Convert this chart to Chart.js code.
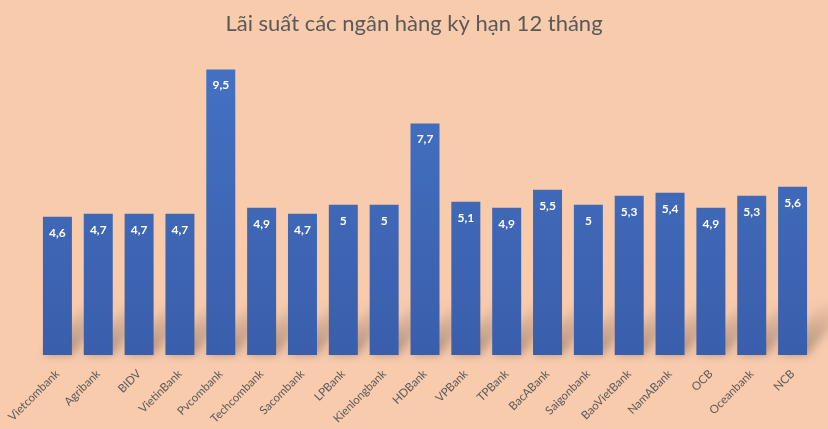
<!DOCTYPE html>
<html>
<head>
<meta charset="utf-8">
<script src="https://cdn.jsdelivr.net/npm/chart.js@4"></script>
<style>
	html, body { margin: 0; padding: 0; background: #f8cbad; }
	#wrap { width: 828px; height: 429px; }
</style>
</head>
<body>
<div id="wrap"><canvas id="rateChart"></canvas></div>
<script>
const banks = ["Vietcombank", "Agribank", "BIDV", "VietinBank", "Pvcombank", "Techcombank", "Sacombank", "LPBank", "Kienlongbank", "HDBank", "VPBank", "TPBank", "BacABank", "Saigonbank", "BaoVietBank", "NamABank", "OCB", "Oceanbank", "NCB"];
const rates = [4.6, 4.7, 4.7, 4.7, 9.5, 4.9, 4.7, 5, 5, 7.7, 5.1, 4.9, 5.5, 5, 5.3, 5.4, 4.9, 5.3, 5.6];
const titleText = "Lãi suất các ngân hàng kỳ hạn 12 tháng";

const FONT = "Lato, 'Open Sans', sans-serif";

// soft diagonal shadow behind each bar
const floorShadow = {
	id: "floorShadow",
	beforeDatasetsDraw(chart) {
		const c = chart.ctx;
		const bars = chart.getDatasetMeta(0).data;
		c.save();
		c.filter = "blur(4px)";
		bars.forEach((b) => {
			const half = b.width / 2;
			const base = b.base;
			const g = c.createLinearGradient(0, base, 0, base - 55);
			g.addColorStop(0, "rgba(90,70,60,0.45)");
			g.addColorStop(1, "rgba(90,70,60,0)");
			c.fillStyle = g;
			c.beginPath();
			c.moveTo(b.x - half, base);
			c.lineTo(b.x + half, base);
			c.lineTo(b.x + half + 45, base - 55);
			c.lineTo(b.x - half + 45, base - 55);
			c.closePath();
			c.fill();
		});
		c.restore();
	},
};

const valueLabels = {
	id: "valueLabels",
	afterDatasetsDraw(chart) {
		const c = chart.ctx;
		const bars = chart.getDatasetMeta(0).data;
		c.save();
		c.fillStyle = "#ffffff";
		c.font = "bold 12px " + FONT;
		c.textAlign = "center";
		c.textBaseline = "middle";
		bars.forEach((b, i) => {
			c.fillText(String(rates[i]).replace(".", ","), b.x, b.y + 16);
		});
		c.restore();
	},
};

const ctx = document.getElementById("rateChart");
new Chart(ctx, {
	type: "bar",
	data: {
		labels: banks,
		datasets: [
			{
				data: rates,
				backgroundColor: (context) => {
					const area = context.chart.chartArea;
					if (!area) return "#4472c4";
					const g = context.chart.ctx.createLinearGradient(0, area.top, 0, area.bottom);
					g.addColorStop(0, "#4472c4");
					g.addColorStop(1, "#3a5eab");
					return g;
				},
				borderWidth: 0,
				categoryPercentage: 1,
				barPercentage: 0.71,
			},
		],
	},
	options: {
		responsive: true,
		maintainAspectRatio: false,
		animation: false,
		layout: { padding: { left: 15, right: 15, top: 0, bottom: 0 } },
		plugins: {
			legend: { display: false },
			tooltip: { enabled: false },
			title: {
				display: true,
				text: titleText,
				color: "#595959",
				font: { family: FONT, size: 22, weight: "normal" },
				padding: { top: 11, bottom: 17 },
			},
		},
		scales: {
			x: {
				grid: { display: false },
				border: { display: false },
				ticks: {
					color: "#595959",
					font: { family: FONT, size: 11.5 },
					minRotation: 45,
					maxRotation: 45,
					padding: 4,
				},
				afterFit: (scale) => {
					scale.height = 74;
				},
			},
			y: {
				min: 0,
				max: 10,
				grid: { display: false },
				border: { display: false },
				ticks: { display: false },
				afterFit: (scale) => {
					scale.width = 22;
				},
			},
		},
	},
	plugins: [floorShadow, valueLabels],
});
</script>
</body>
</html>
